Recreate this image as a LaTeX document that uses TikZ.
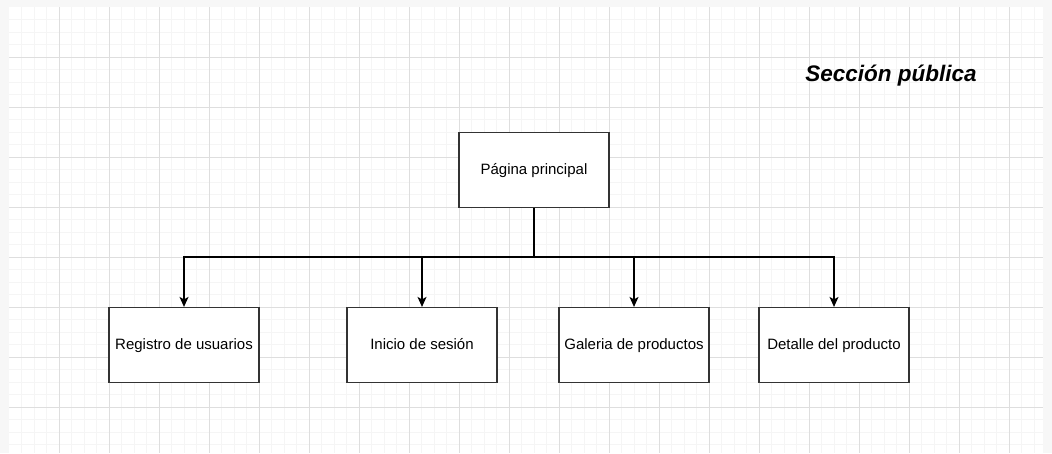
\documentclass[tikz,border=0pt]{standalone}
\usepackage{fontspec}
\setmainfont{Liberation Sans}
\usetikzlibrary{arrows.meta,positioning,calc}

\begin{document}
\begin{tikzpicture}[->,>={Stealth[length=10pt,width=9pt,inset=2.5pt]},x=1pt,y=-1pt,
    line width=1.2pt,every node/.style={font=\fontsize{15}{18}\selectfont}]
    \tikzstyle{caja}=[draw=black!80,fill=white,minimum width=150pt,
    minimum height=75pt,inner sep=0pt,text height=11pt,text depth=3pt]
    \useasboundingbox (0,0) rectangle (1052,453);
    % fondo con cuadricula
    \fill[black!3] (0,0) rectangle (1052,453);
    \fill[white] (9,7) rectangle (1043,453);
    \foreach \x in {21.5,34,...,1042} \draw[-,black!4,line width=0.8pt] (\x,7) -- (\x,453);
    \foreach \y in {19.5,32,...,452} \draw[-,black!4,line width=0.8pt] (9,\y) -- (1043,\y);
    \foreach \x in {59,109,...,1042} \draw[-,black!13,line width=0.8pt] (\x,7) -- (\x,453);
    \foreach \y in {57,107,...,452} \draw[-,black!13,line width=0.8pt] (9,\y) -- (1043,\y);

    \node[font=\fontsize{22.5}{26}\selectfont\bfseries\itshape] (titulo) at (891,76)
    {Sección pública};

    \node[caja] (principal) at (534,170) {Página principal};
    \node[caja] (registro) at (184,345) {Registro de usuarios};
    \node[caja] (inicio) at (422,345) {Inicio de sesión};
    \node[caja] (galeria) at (634,345) {Galeria de productos};
    \node[caja] (detalle) at (834,345) {Detalle del producto};

    \coordinate (bus) at (534,257);
    \draw[-,line width=1.6pt] (principal.south) -- (bus);
    \foreach \n in {registro,inicio,galeria,detalle}
    \draw (bus) -| (\n.north);

\end{tikzpicture}
\end{document}
